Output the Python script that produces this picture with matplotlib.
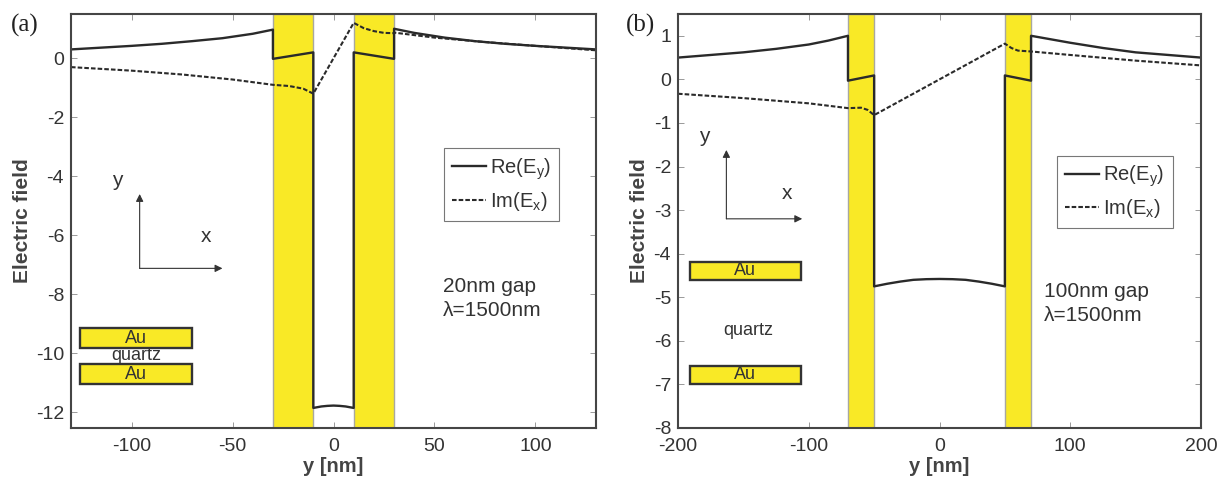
import matplotlib
matplotlib.use("Agg")
import matplotlib.pyplot as plt
from matplotlib.patches import Rectangle

plt.rcParams["font.family"] = ["Liberation Sans", "DejaVu Sans"]
plt.rcParams["mathtext.default"] = "regular"
plt.rcParams["axes.unicode_minus"] = False

YELLOW = "#f9e926"
DARK = "#2a2a2a"
GREY = "#454545"

# panel a, 20nm gap
a_re_y = [-130, -115, -100, -85, -70, -55, -40, -30, -30, -10, -10, -6, -3, 0, 3, 6, 10, 10, 30, 30, 40, 55, 70, 85, 100, 115, 130]
a_re = [0.3, 0.36, 0.42, 0.49, 0.58, 0.68, 0.83, 0.97, -0.02, 0.2, -11.85, -11.8, -11.78, -11.77, -11.78, -11.8, -11.85, 0.2, -0.02, 1.0, 0.86, 0.7, 0.58, 0.49, 0.42, 0.36, 0.3]
a_im_y = [-130, -100, -75, -50, -30, -22, -15, -10, 10, 15, 20, 25, 30, 30, 50, 75, 100, 130]
a_im = [-0.3, -0.42, -0.55, -0.72, -0.9, -0.94, -1.03, -1.2, 1.2, 1.02, 0.92, 0.86, 0.85, 0.87, 0.7, 0.55, 0.42, 0.27]

# panel b, 100nm gap
b_re_y = [-200, -175, -150, -125, -100, -85, -70, -70, -50, -50, -40, -30, -20, -10, 0, 10, 20, 30, 40, 50, 50, 70, 70, 85, 100, 125, 150, 175, 200]
b_re = [0.5, 0.56, 0.62, 0.7, 0.8, 0.89, 1.0, -0.03, 0.09, -4.75, -4.69, -4.64, -4.6, -4.585, -4.58, -4.585, -4.6, -4.64, -4.69, -4.75, 0.09, -0.03, 1.0, 0.92, 0.84, 0.72, 0.62, 0.56, 0.5]
b_im_y = [-200, -150, -100, -70, -60, -55, -50, 50, 55, 60, 70, 100, 150, 200]
b_im = [-0.33, -0.43, -0.55, -0.66, -0.65, -0.7, -0.82, 0.82, 0.72, 0.66, 0.64, 0.56, 0.43, 0.32]


def setup(ax, xlim, ylim, xticks, yticks, metal):
    ax.set_xlim(xlim)
    ax.set_ylim(ylim)
    ax.set_xticks(xticks)
    ax.set_yticks(yticks)
    for s in ax.spines.values():
        s.set_color(GREY)
        s.set_linewidth(1.5)
        s.set_zorder(5)
    ax.tick_params(direction="in", length=4, width=0.7, color="#999999", top=True, right=True,
                   labelsize=14, labelcolor="#333333", pad=5)
    ax.tick_params(axis="x", pad=7)
    ax.set_xlabel("y [nm]", fontsize=14.5, fontweight="bold", color="#444444", labelpad=2)
    ax.set_ylabel("Electric field", fontsize=15, fontweight="bold", color="#444444", labelpad=3)
    for x0, x1 in metal:
        ax.axvspan(x0, x1, facecolor=YELLOW, edgecolor="#a8a8a0", linewidth=1, zorder=1)


def au_box(ax, x0, x1, y0, y1, txt_y):
    ax.add_patch(Rectangle((x0, y0), x1 - x0, y1 - y0, facecolor=YELLOW, edgecolor="#333333",
                           linewidth=1.7, zorder=2))
    ax.text((x0 + x1) / 2, txt_y, "Au", ha="center", va="center", fontsize=13, color="#333333", zorder=3)


def arrow(ax, start, end):
    ax.annotate("", xy=end, xytext=start, zorder=3,
                arrowprops=dict(arrowstyle="-|>", color="#333333", lw=0.8, mutation_scale=11,
                                shrinkA=0, shrinkB=0))


def curves(ax, re_y, re, im_y, im, anchor):
    ax.plot(re_y, re, color=DARK, lw=1.7, label=r"Re(E$_{y}$)", zorder=4)
    ax.plot(im_y, im, color=DARK, lw=1.5, dashes=(2.2, 1.0), label=r"Im(E$_{x}$)", zorder=4)
    leg = ax.legend(loc="upper left", bbox_to_anchor=anchor, bbox_transform=ax.transData,
                    fontsize=14.5, fancybox=False, framealpha=1, edgecolor="#777777",
                    borderaxespad=0, borderpad=0.4, labelspacing=0.4, handlelength=1.7,
                    handletextpad=0.2, labelcolor="#333333")
    leg.get_frame().set_linewidth(0.8)
    leg.set_zorder(4)


fig = plt.figure(figsize=(12.22, 4.78), dpi=100)
ax1 = fig.add_axes([71 / 1222, 1 - 428 / 478, 525 / 1222, 414 / 478])
ax2 = fig.add_axes([678 / 1222, 1 - 428 / 478, 523 / 1222, 414 / 478])

setup(ax1, (-130, 130), (-12.53, 1.5), [-100, -50, 0, 50, 100], [-12, -10, -8, -6, -4, -2, 0],
      [(-30, -10), (10, 30)])
setup(ax2, (-200, 200), (-8, 1.5), [-200, -100, 0, 100, 200], [-8, -7, -6, -5, -4, -3, -2, -1, 0, 1],
      [(-70, -50), (50, 70)])

curves(ax1, a_re_y, a_re, a_im_y, a_im, (54.5, -3.04))
curves(ax2, b_re_y, b_re, b_im_y, b_im, (90, -1.75))

fig.text(11 / 1222, 1 - 25 / 478, "(a)", family="Liberation Serif", fontsize=18, color="#222222", va="center")
fig.text(626 / 1222, 1 - 25 / 478, "(b)", family="Liberation Serif", fontsize=18, color="#222222", va="center")

# schema panel a
au_box(ax1, -125.5, -70, -9.83, -9.15, -9.5)
au_box(ax1, -125.5, -70, -11.05, -10.37, -10.72)
ax1.text(-97.5, -10.08, "quartz", ha="center", va="center", fontsize=13, color="#333333", zorder=3)
arrow(ax1, (-96, -7.12), (-96, -4.6))
arrow(ax1, (-96, -7.12), (-55, -7.12))
ax1.text(-107, -4.15, "y", ha="center", va="center", fontsize=15, color="#333333")
ax1.text(-63, -6.05, "x", ha="center", va="center", fontsize=15, color="#333333")
ax1.text(54, -8.14, "20nm gap\nλ=1500nm", ha="left", va="center", fontsize=15, color="#333333", linespacing=1.35)

# schema panel b
au_box(ax2, -191, -106, -4.6, -4.19, -4.38)
au_box(ax2, -191, -106, -6.98, -6.57, -6.78)
ax2.text(-146, -5.77, "quartz", ha="center", va="center", fontsize=13, color="#333333", zorder=3)
arrow(ax2, (-163, -3.2), (-163, -1.62))
arrow(ax2, (-163, -3.2), (-105, -3.2))
ax2.text(-180, -1.32, "y", ha="center", va="center", fontsize=15, color="#333333")
ax2.text(-117, -2.62, "x", ha="center", va="center", fontsize=15, color="#333333")
ax2.text(80, -5.15, "100nm gap\nλ=1500nm", ha="left", va="center", fontsize=15, color="#333333", linespacing=1.35)

fig.savefig("out.png", dpi=100)
